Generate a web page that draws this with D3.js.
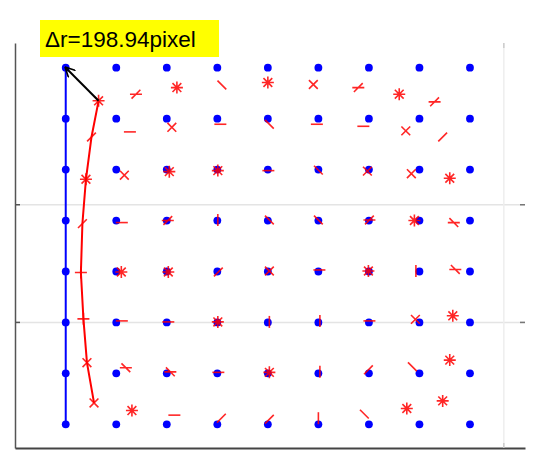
<!DOCTYPE html>
<html>
<head>
<meta charset="utf-8">
<script src="https://cdn.jsdelivr.net/npm/d3@7"></script>
<style>
  body { margin: 0; background: #fff; }
  svg { display: block; }
</style>
</head>
<body>
<div id="chart"></div>
<script>
// nominal grid (blue), in grid units
var gridCols = [0, 1, 2, 3, 4, 5, 6, 7, 8];
var gridRows = [0, 1, 2, 3, 4, 5, 6, 7];

// detected (distorted) positions, one row per grid row
var redX = [
    [0.65, 1.39, 2.20, 3.09, 4.00, 4.90, 5.79, 6.60, 7.30],
    [0.51, 1.27, 2.10, 3.06, 4.03, 4.97, 5.89, 6.73, 7.46],
    [0.40, 1.16, 2.05, 3.01, 4.01, 5.00, 5.97, 6.84, 7.60],
    [0.33, 1.11, 2.02, 3.01, 4.03, 5.00, 6.01, 6.90, 7.68],
    [0.30, 1.10, 2.03, 3.02, 4.03, 5.02, 5.99, 6.93, 7.71],
    [0.35, 1.11, 2.03, 3.01, 4.03, 5.03, 6.01, 6.92, 7.66],
    [0.42, 1.19, 2.07, 3.02, 4.03, 5.03, 5.99, 6.86, 7.60],
    [0.56, 1.31, 2.15, 3.08, 4.03, 5.00, 5.91, 6.75, 7.46]
];
var redY = [
    [0.65, 0.52, 0.39, 0.34, 0.29, 0.33, 0.39, 0.52, 0.67],
    [1.36, 1.26, 1.17, 1.11, 1.11, 1.11, 1.15, 1.24, 1.36],
    [2.19, 2.11, 2.04, 2.02, 2.02, 2.01, 2.03, 2.08, 2.17],
    [3.06, 3.04, 3.00, 2.99, 2.99, 2.99, 2.99, 3.00, 3.04],
    [4.02, 4.01, 4.01, 4.01, 3.99, 3.97, 3.99, 3.99, 3.96],
    [4.93, 4.97, 4.99, 4.99, 4.99, 4.97, 4.97, 4.94, 4.87],
    [5.79, 5.89, 5.97, 5.98, 5.98, 5.97, 5.93, 5.87, 5.74],
    [6.58, 6.73, 6.82, 6.88, 6.90, 6.88, 6.80, 6.69, 6.54]
];
// which strokes of the asterisk survive in the picture
var redMark = [
    ["*", "-/", "*", "\\", "*", "x", "-/", "*", "-/"],
    ["/", "-", "x", "-", "\\", "-", "-", "x", "/"],
    ["*", "x", "*", "*", "-", "\\", "x", "x", "*"],
    ["/", "-", "-/", "|", "\\", "\\", "-/", "*", "-\\"],
    ["+", "*", "*", "/", "x", "-", "*", "|", "-\\"],
    ["+", "-", "-", "*", "|", "|", "-", "x", "*"],
    ["x", "-\\", "-\\", "-", "*", "|", "/", "\\", "*"],
    ["x", "*", "-", "/", "/", "|", "\\", "*", "*"]
];

var xTicks = [8.66];
var yTicks = [2.68, 4.99];
var label = "\u0394r=198.94pixel";

var width = 550,
    height = 464;

var x = d3.scaleLinear().domain([-1.004, 9.089]).range([15, 525]);
var y = d3.scaleLinear().domain([-0.485, 7.465]).range([43, 448]);

var svg = d3.select("#chart")
    .append("svg")
    .attr("width", width)
    .attr("height", height);

svg.append("defs").append("marker")
    .attr("id", "head")
    .attr("viewBox", "0 -5 10 10")
    .attr("refX", 9)
    .attr("refY", 0)
    .attr("markerWidth", 5.5)
    .attr("markerHeight", 5)
    .attr("markerUnits", "strokeWidth")
    .attr("orient", "auto")
    .append("path")
    .attr("d", "M0,-5L10,0L0,5")
    .attr("fill", "none")
    .attr("stroke", "#000")
    .attr("stroke-width", 1.6);

// grid lines
var gridY = svg.append("g")
    .attr("transform", "translate(15,0)")
    .call(d3.axisLeft(y).tickValues(yTicks).tickSize(-510).tickFormat(""));
gridY.select(".domain").remove();
gridY.selectAll("line").attr("stroke", "#e4e4e4").attr("stroke-width", 1.5);

var gridX = svg.append("g")
    .attr("transform", "translate(0,448)")
    .call(d3.axisBottom(x).tickValues(xTicks).tickSize(-405).tickFormat(""));
gridX.select(".domain").remove();
gridX.selectAll("line").attr("stroke", "#eeeeee").attr("stroke-width", 1.5);

// axes, ticks pointing inward
var leftAxis = svg.append("g")
    .attr("transform", "translate(15,0)")
    .call(d3.axisLeft(y).tickValues(yTicks).tickSize(-5).tickSizeOuter(0).tickFormat(""));
leftAxis.select(".domain").attr("stroke", "#555").attr("stroke-width", 1.5);
leftAxis.selectAll("line").attr("stroke", "#555").attr("stroke-width", 1.5);

var rightAxis = svg.append("g")
    .attr("transform", "translate(525,0)")
    .call(d3.axisRight(y).tickValues(yTicks).tickSize(-5).tickFormat(""));
rightAxis.select(".domain").remove();
rightAxis.selectAll("line").attr("stroke", "#777").attr("stroke-width", 1.5);

var bottomAxis = svg.append("g")
    .attr("transform", "translate(0,448)")
    .call(d3.axisBottom(x).tickValues(xTicks).tickSize(-5).tickSizeOuter(0).tickFormat(""));
bottomAxis.select(".domain").attr("stroke", "#444").attr("stroke-width", 2);
bottomAxis.selectAll("line").attr("stroke", "#ccc").attr("stroke-width", 1.5);

var topAxis = svg.append("g")
    .attr("transform", "translate(0,43)")
    .call(d3.axisTop(x).tickValues(xTicks).tickSize(-5).tickFormat(""));
topAxis.select(".domain").remove();
topAxis.selectAll("line").attr("stroke", "#ccc").attr("stroke-width", 1.5);

// blue nominal grid
var blue = [];
gridRows.forEach(function (r) {
    gridCols.forEach(function (c) {
        blue.push({ c: c, r: r });
    });
});

svg.append("path")
    .datum(gridRows)
    .attr("fill", "none")
    .attr("stroke", "#0000ff")
    .attr("stroke-width", 2)
    .attr("d", d3.line()
        .x(function () { return x(gridCols[0]); })
        .y(function (d) { return y(d); }));

svg.append("g")
    .selectAll("circle")
    .data(blue)
    .enter().append("circle")
    .attr("cx", function (d) { return x(d.c); })
    .attr("cy", function (d) { return y(d.r); })
    .attr("r", 3.9)
    .attr("fill", "#0000ff");

// red detected points
var red = [];
gridRows.forEach(function (r) {
    gridCols.forEach(function (c) {
        red.push({ x: redX[r][c], y: redY[r][c], m: redMark[r][c] });
    });
});

svg.append("path")
    .datum(gridRows)
    .attr("fill", "none")
    .attr("stroke", "#ff0000")
    .attr("stroke-width", 2)
    .attr("d", d3.line()
        .x(function (d) { return x(redX[d][0]); })
        .y(function (d) { return y(redY[d][0]); }));

var arm = 6, diag = 4.4;
function glyph(m) {
    if (m === "*") m = "-|/\\";
    if (m === "x") m = "/\\";
    if (m === "+") m = "-|";
    var p = "";
    m.split("").forEach(function (s) {
        if (s === "-") p += "M" + (-arm) + ",0L" + arm + ",0";
        if (s === "|") p += "M0," + (-arm) + "L0," + arm;
        if (s === "/") p += "M" + (-diag) + "," + diag + "L" + diag + "," + (-diag);
        if (s === "\\") p += "M" + (-diag) + "," + (-diag) + "L" + diag + "," + diag;
    });
    return p;
}

svg.append("g")
    .selectAll("path")
    .data(red)
    .enter().append("path")
    .attr("transform", function (d) { return "translate(" + x(d.x) + "," + y(d.y) + ")"; })
    .attr("d", function (d) { return glyph(d.m); })
    .attr("fill", "none")
    .attr("stroke", "#ff0000")
    .attr("stroke-width", 1.6)
    .attr("opacity", 0.85);

// arrow from first detected point to its nominal point
svg.append("line")
    .attr("x1", x(redX[0][0]))
    .attr("y1", y(redY[0][0]))
    .attr("x2", x(gridCols[0]))
    .attr("y2", y(gridRows[0]))
    .attr("stroke", "#000")
    .attr("stroke-width", 2)
    .attr("marker-end", "url(#head)");

// label
svg.append("rect")
    .attr("x", 40)
    .attr("y", 20)
    .attr("width", 179)
    .attr("height", 37)
    .attr("fill", "#ffff00");

svg.append("text")
    .attr("x", 45)
    .attr("y", 47)
    .attr("font-family", "Liberation Sans, Arial, sans-serif")
    .attr("font-size", "22.5px")
    .attr("fill", "#000")
    .text(label);
</script>
</body>
</html>
